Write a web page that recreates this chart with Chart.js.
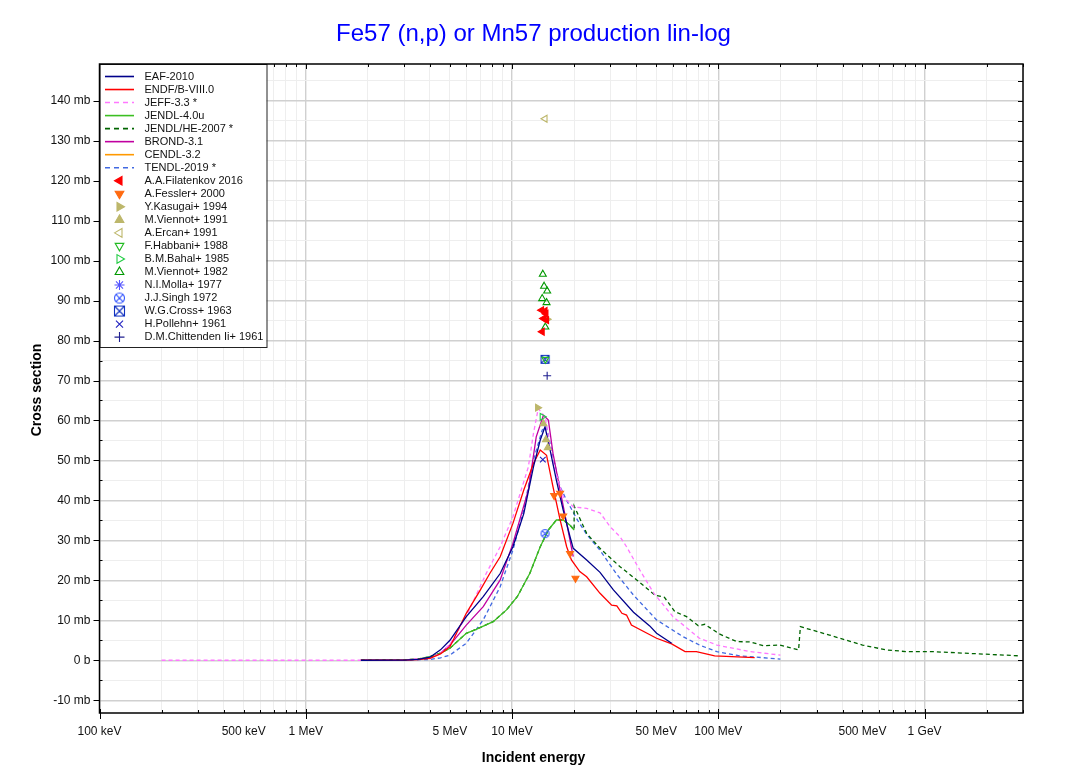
<!DOCTYPE html>
<html lang="en">
<head>
  <meta charset="UTF-8" />
  <title>Fe57 (n,p) or Mn57 production lin-log</title>
  <script src="https://cdn.jsdelivr.net/npm/chart.js"></script>
  <style>
    html, body { margin: 0; padding: 0; background: #fff; overflow: hidden; }
    .frame { position: absolute; left: 17px; top: 5px; width: 1028px; height: 800px; border: 1px solid #ececec; }
    .wrap { position: absolute; left: 0; top: 0; width: 1067px; height: 774px; }
  </style>
</head>
<body>
  <div class="frame"></div>
  <div class="wrap"><canvas id="xsChart"></canvas></div>
  <script>
    // energies in MeV, cross sections in mb
    const eafE  = [1.85, 3, 3.5, 4, 4.5, 5, 6, 7.25, 8.76, 10.1, 11.4, 12.7, 13.7, 14.45, 15.3, 16.4, 17.7, 19.1, 19.8, 23, 26.7, 31, 38.8, 46.5, 50.2, 59.4];
    const eafXS = [0, 0.05, 0.2, 0.75, 2.6, 5.0, 10.9, 15.9, 21.7, 28.4, 36.7, 48.4, 55.1, 58.4, 52.6, 45.1, 37.6, 30.9, 28.0, 25.1, 22.0, 17.6, 12.0, 8.6, 6.75, 4.25];

    const endfE  = [1.85, 3, 3.5, 4, 4.5, 5, 6, 7, 7.8, 8.76, 10.1, 11.4, 12.7, 13.7, 14.7, 15.8, 17.1, 18.4, 19.4, 21.3, 23, 26.7, 30.4, 32.2, 34.1, 35.9, 37.9, 50.2, 59.4, 69, 78.3, 96, 150];
    const endfXS = [0, 0.05, 0.15, 0.5, 1.6, 3.4, 11.75, 17.5, 21.7, 25.9, 34.25, 42.6, 49.25, 52.6, 51.3, 43.4, 35.1, 28.4, 25.1, 22.2, 20.9, 16.75, 13.8, 13.6, 11.75, 11.3, 8.8, 5.5, 4.1, 2.15, 2.15, 1.1, 0.65];

    const jeffE  = [0.2, 1, 2, 3, 4, 4.5, 5, 6, 7.5, 8.76, 10.1, 12.0, 12.7, 13.4, 14.45, 15.8, 17.7, 19.8, 23, 26.7, 29.9, 33.4, 35.9, 41.6, 48.7, 60.3, 81, 98.5, 143, 200];
    const jeffXS = [0, 0, 0, 0.05, 0.6, 1.8, 4.0, 11.0, 21.75, 28.4, 35.9, 48.4, 56.75, 63.0, 60.9, 49.25, 40.9, 38.4, 38.0, 36.9, 33.4, 30.9, 28.4, 22.6, 16.75, 10.9, 5.5, 3.8, 2.15, 1.3];

    const jendlE  = [1.85, 3, 3.5, 4, 4.5, 5, 6, 6.7, 8.1, 9.4, 10.6, 12.2, 13.7, 15.0, 16.4, 17.7, 19.1, 20];
    const jendlXS = [0, 0.1, 0.3, 0.9, 1.8, 3.0, 6.75, 7.75, 9.65, 12.6, 15.9, 21.75, 28.4, 32.6, 35.1, 35.1, 33.8, 32.6];

    const jendlHeE  = [1.85, 3, 3.5, 4, 4.5, 5, 6, 6.7, 8.1, 9.4, 10.6, 12.2, 13.7, 15.0, 16.4, 17.7, 19.1, 20, 20, 23, 26.7, 33.4, 40.2, 49.3, 54.8, 61.6, 70.2, 80, 86, 101, 123, 143, 165, 198, 245, 250, 346, 500, 650, 820, 1100, 2900];
    const jendlHeXS = [0, 0.1, 0.3, 0.9, 1.8, 3.0, 6.75, 7.75, 9.65, 12.6, 15.9, 21.75, 28.4, 32.6, 35.1, 35.1, 33.8, 32.6, 38.6, 31.75, 28.0, 23.4, 20.1, 16.3, 15.75, 12.15, 10.9, 8.65, 9.0, 6.6, 4.65, 4.6, 3.65, 3.8, 2.6, 8.4, 6.3, 3.8, 2.6, 2.15, 2.15, 1.1];

    const brondE  = [1.85, 3, 4, 4.5, 5, 6, 7.25, 8.76, 10.1, 12.0, 13.1, 14.2, 15.0, 15.8, 17.1, 18.4, 19.8];
    const brondXS = [0, 0.05, 0.6, 1.8, 3.8, 8.8, 13.4, 20.1, 29.25, 42.6, 55.9, 61.3, 60.1, 51.75, 42.6, 34.25, 25.9];

    const cendlE  = [];
    const cendlXS = [];

    const tendlE  = [1.85, 3, 4, 4.5, 5, 6, 7.25, 8.76, 10.1, 11.4, 12.7, 14.0, 14.7, 15.8, 17.1, 18.4, 20.8, 23, 26.7, 32.2, 38.8, 50.2, 67.5, 81, 98.5, 127, 200];
    const tendlXS = [0, 0.02, 0.2, 0.6, 1.3, 4.25, 10.1, 18.4, 27.6, 37.6, 50.1, 57.6, 58.4, 50.9, 43.4, 40.0, 35.0, 31.5, 27.5, 21.5, 16.3, 10.1, 5.9, 3.8, 2.15, 1.1, 0.3];

    // measurements
    const filatenkovE  = [13.9, 14.45, 14.6, 14.2, 14.7, 14.0];
    const filatenkovXS = [87.6, 87.4, 86.7, 85.5, 85.1, 82.2];
    const fesslerE  = [16.0, 17.1, 17.7, 19.1, 20.3];
    const fesslerXS = [41.2, 41.8, 36.1, 26.7, 20.5];
    const kasugaiE  = [13.3, 14.8];
    const kasugaiXS = [63.2, 85.3];
    const viennot91E  = [14.2, 14.6, 14.9];
    const viennot91XS = [59.2, 55.2, 53.2];
    const ercanE  = [14.45];
    const ercanXS = [135.5];
    const habbaniE  = [14.5];
    const habbaniXS = [75.3];
    const bahalE  = [14.0];
    const bahalXS = [60.9];
    const viennot82E  = [14.1, 14.3, 14.8, 14.0, 14.7, 14.5];
    const viennot82XS = [96.6, 93.6, 92.4, 90.5, 89.5, 83.4];
    const mollaE  = [];
    const mollaXS = [];
    const singhE  = [14.45];
    const singhXS = [31.7];
    const crossE  = [14.45];
    const crossXS = [75.3];
    const pollehnE  = [14.1];
    const pollehnXS = [50.2];
    const chittendenE  = [14.8];
    const chittendenXS = [71.2];

    // axis ticks (energies in eV)
    const xTickValues = [1e5, 5e5, 1e6, 5e6, 1e7, 5e7, 1e8, 5e8, 1e9];
    const xTickLabels = ['100 keV', '500 keV', '1 MeV', '5 MeV', '10 MeV', '50 MeV', '100 MeV', '500 MeV', '1 GeV'];
    const yMin = -13.2, yMax = 149.2;

    const FONT = '"Liberation Sans", Arial, sans-serif';

    function pts(e, s) {
      return e.map((v, i) => ({ x: v * 1e6, y: s[i] }));
    }

    // small canvases for the combined symbols
    function makeSymbol(kind, r, color) {
      const size = Math.ceil(r * 2 + 3);
      const cv = document.createElement('canvas');
      cv.width = size; cv.height = size;
      const c = cv.getContext('2d');
      const m = size / 2;
      c.strokeStyle = color;
      c.lineWidth = 1.1;
      c.beginPath();
      if (kind === 'circleX') {
        c.arc(m, m, r, 0, Math.PI * 2);
        const d = r * 0.707;
        c.moveTo(m - d, m - d); c.lineTo(m + d, m + d);
        c.moveTo(m + d, m - d); c.lineTo(m - d, m + d);
      } else {
        c.rect(m - r, m - r, r * 2, r * 2);
        c.moveTo(m - r, m - r); c.lineTo(m + r, m + r);
        c.moveTo(m + r, m - r); c.lineTo(m - r, m + r);
      }
      c.stroke();
      return cv;
    }

    function lineSet(label, e, s, color, dash) {
      return {
        label, data: pts(e, s), showLine: true, pointRadius: 0, borderColor: color,
        backgroundColor: color, borderWidth: 1.3, borderDash: dash || [], fill: false,
        order: 2, kind: 'line'
      };
    }

    function pointSet(label, e, s, color, style, rotation, filled) {
      return {
        label, data: pts(e, s), showLine: false, pointStyle: style, rotation: rotation || 0,
        pointRadius: 4, borderColor: color, borderWidth: 1.1,
        backgroundColor: filled ? color : 'rgba(0,0,0,0)', order: 1, kind: 'point', filled, color
      };
    }

    const datasets = [
      lineSet('EAF-2010', eafE, eafXS, '#00008b'),
      lineSet('ENDF/B-VIII.0', endfE, endfXS, '#ff0000'),
      lineSet('JEFF-3.3 *', jeffE, jeffXS, '#ff77ff', [4, 3]),
      lineSet('JENDL-4.0u', jendlE, jendlXS, '#3cbf22'),
      lineSet('JENDL/HE-2007 *', jendlHeE, jendlHeXS, '#006400', [4, 3]),
      lineSet('BROND-3.1', brondE, brondXS, '#c000a0'),
      lineSet('CENDL-3.2', cendlE, cendlXS, '#ff9900'),
      lineSet('TENDL-2019 *', tendlE, tendlXS, '#4169e1', [4, 3]),
      pointSet('A.A.Filatenkov 2016', filatenkovE, filatenkovXS, '#ff0000', 'triangle', -90, true),
      pointSet('A.Fessler+ 2000', fesslerE, fesslerXS, '#ff6a10', 'triangle', 180, true),
      pointSet('Y.Kasugai+ 1994', kasugaiE, kasugaiXS, '#bdb76b', 'triangle', 90, true),
      pointSet('M.Viennot+ 1991', viennot91E, viennot91XS, '#bdb76b', 'triangle', 0, true),
      pointSet('A.Ercan+ 1991', ercanE, ercanXS, '#bdb76b', 'triangle', -90, false),
      pointSet('F.Habbani+ 1988', habbaniE, habbaniXS, '#22bb22', 'triangle', 180, false),
      pointSet('B.M.Bahal+ 1985', bahalE, bahalXS, '#22cc44', 'triangle', 90, false),
      pointSet('M.Viennot+ 1982', viennot82E, viennot82XS, '#009900', 'triangle', 0, false),
      pointSet('N.I.Molla+ 1977', mollaE, mollaXS, '#5555ff', 'star', 0, false),
      pointSet('J.J.Singh 1972', singhE, singhXS, '#3355ff', makeSymbol('circleX', 4, '#3355ff'), 0, false),
      pointSet('W.G.Cross+ 1963', crossE, crossXS, '#1030c0', makeSymbol('squareX', 4, '#1030c0'), 0, false),
      pointSet('H.Pollehn+ 1961', pollehnE, pollehnXS, '#2020c0', 'crossRot', 0, false),
      pointSet('D.M.Chittenden Ii+ 1961', chittendenE, chittendenXS, '#202090', 'cross', 0, false)
    ];

    const legendSymbols = {
      'J.J.Singh 1972': makeSymbol('circleX', 5, '#3355ff'),
      'W.G.Cross+ 1963': makeSymbol('squareX', 5, '#1030c0')
    };

    function isDecade(v) {
      const l = Math.log10(v);
      return Math.abs(l - Math.round(l)) < 1e-6;
    }

    // keep only 1..9 x 10^n on the log axis
    function isLogStep(v) {
      const m = v / Math.pow(10, Math.floor(Math.log10(v) + 1e-9));
      return Math.abs(m - Math.round(m)) < 1e-6;
    }

    function drawMarker(ctx, ds, x, y, r) {
      const style = legendSymbols[ds.label] || ds.pointStyle;
      ctx.save();
      ctx.strokeStyle = ds.borderColor;
      ctx.fillStyle = ds.filled ? ds.borderColor : 'rgba(0,0,0,0)';
      ctx.lineWidth = 1.1;
      if (Chart.helpers && Chart.helpers.drawPoint) {
        Chart.helpers.drawPoint(ctx, { pointStyle: style, rotation: ds.rotation, radius: r, borderWidth: 1.1 }, x, y);
      } else {
        ctx.beginPath(); ctx.arc(x, y, r, 0, Math.PI * 2); ctx.stroke();
      }
      ctx.restore();
    }

    const decorPlugin = {
      id: 'decor',
      beforeDraw(chart) {
        const c = chart.ctx;
        c.save(); c.fillStyle = '#fff'; c.fillRect(0, 0, chart.width, chart.height); c.restore();
      },
      afterDraw(chart) {
        const { ctx, chartArea: a, scales } = chart;
        ctx.save();
        ctx.strokeStyle = '#000';
        ctx.lineWidth = 1;

        // y ticks
        scales.y.ticks.forEach(t => {
          const py = Math.round(scales.y.getPixelForValue(t.value)) + 0.5;
          const major = Math.abs(t.value % 10) < 1e-6;
          ctx.beginPath();
          if (major) { ctx.moveTo(a.left - 6, py); ctx.lineTo(a.left, py); }
          else { ctx.moveTo(a.left, py); ctx.lineTo(a.left + 3, py); }
          ctx.moveTo(a.right - 5, py); ctx.lineTo(a.right, py);
          ctx.stroke();
        });
        // x ticks
        scales.x.ticks.forEach(t => {
          const px = Math.round(scales.x.getPixelForValue(t.value)) + 0.5;
          const major = isDecade(t.value);
          ctx.beginPath();
          if (major) {
            ctx.moveTo(px, a.bottom - 4); ctx.lineTo(px, a.bottom + 6);
            ctx.moveTo(px, a.top); ctx.lineTo(px, a.top + 5);
          } else {
            ctx.moveTo(px, a.bottom - 3); ctx.lineTo(px, a.bottom);
            ctx.moveTo(px, a.top); ctx.lineTo(px, a.top + 3);
          }
          ctx.stroke();
        });

        // legend box
        const lx = a.left, ly = a.top, lw = 167, lh = 283;
        ctx.fillStyle = '#fff';
        ctx.fillRect(lx, ly, lw, lh);
        ctx.strokeStyle = '#222';
        ctx.lineWidth = 1;
        ctx.strokeRect(lx + 0.5, ly + 0.5, lw, lh);
        ctx.font = '11px ' + FONT;
        ctx.textBaseline = 'middle';
        ctx.textAlign = 'left';
        chart.data.datasets.forEach((ds, i) => {
          const y = 76.5 + i * 13.03;
          if (ds.kind === 'line') {
            ctx.save();
            ctx.strokeStyle = ds.borderColor;
            ctx.lineWidth = 1.6;
            ctx.setLineDash(ds.borderDash.length ? [5, 4] : []);
            ctx.beginPath(); ctx.moveTo(105, y); ctx.lineTo(134, y); ctx.stroke();
            ctx.restore();
          } else {
            drawMarker(ctx, ds, 119.5, y, 5);
          }
          ctx.fillStyle = '#111';
          ctx.fillText(ds.label, 144.5, y);
        });

        // frame
        ctx.strokeStyle = '#000';
        ctx.lineWidth = 1.5;
        ctx.strokeRect(a.left, a.top, a.right - a.left, a.bottom - a.top);

        // titles
        ctx.fillStyle = '#0000ff';
        ctx.font = '24px ' + FONT;
        ctx.textAlign = 'center';
        ctx.textBaseline = 'middle';
        ctx.fillText('Fe57 (n,p) or Mn57 production lin-log', 533.5, 34.5);
        ctx.fillStyle = '#000';
        ctx.font = 'bold 14px ' + FONT;
        ctx.fillText('Incident energy', 533.5, 758);
        ctx.translate(37, 390);
        ctx.rotate(-Math.PI / 2);
        ctx.fillText('Cross section', 0, 0);
        ctx.restore();
      }
    };

    new Chart(document.getElementById('xsChart'), {
      type: 'scatter',
      data: { datasets },
      plugins: [decorPlugin],
      options: {
        responsive: true,
        maintainAspectRatio: false,
        animation: false,
        events: [],
        layout: { padding: { top: 64, right: 44, bottom: 0, left: 0 } },
        plugins: { legend: { display: false }, tooltip: { enabled: false }, title: { display: false } },
        scales: {
          x: {
            type: 'logarithmic',
            min: 1e5,
            max: 3e9,
            border: { display: false },
            afterBuildTicks: s => { s.ticks = s.ticks.filter(t => isLogStep(t.value)); },
            grid: {
              drawTicks: false,
              color: c => (c.tick && isDecade(c.tick.value)) ? '#d0d0d0' : '#eeeeee',
              lineWidth: c => (c.tick && isDecade(c.tick.value)) ? 1.4 : 1
            },
            ticks: {
              autoSkip: false,
              maxRotation: 0,
              padding: 11,
              color: '#111',
              font: { family: FONT, size: 12 },
              callback: v => {
                const i = xTickValues.findIndex(t => Math.abs(t - v) / t < 1e-6);
                return i >= 0 ? xTickLabels[i] : '';
              }
            },
            afterFit: s => { s.height = 61; }
          },
          y: {
            min: yMin,
            max: yMax,
            border: { display: false },
            grid: {
              drawTicks: false,
              color: c => (c.tick && Math.abs(c.tick.value % 10) < 1e-6) ? '#d0d0d0' : '#eeeeee',
              lineWidth: c => (c.tick && Math.abs(c.tick.value % 10) < 1e-6) ? 1.4 : 1
            },
            ticks: {
              stepSize: 5,
              includeBounds: false,
              padding: 9,
              color: '#111',
              font: { family: FONT, size: 12 },
              callback: v => Math.abs(v % 10) < 1e-6 ? (v === 0 ? '0 b' : v + ' mb') : ''
            },
            afterFit: s => { s.width = 99.5; }
          }
        }
      }
    });
  </script>
</body>
</html>
